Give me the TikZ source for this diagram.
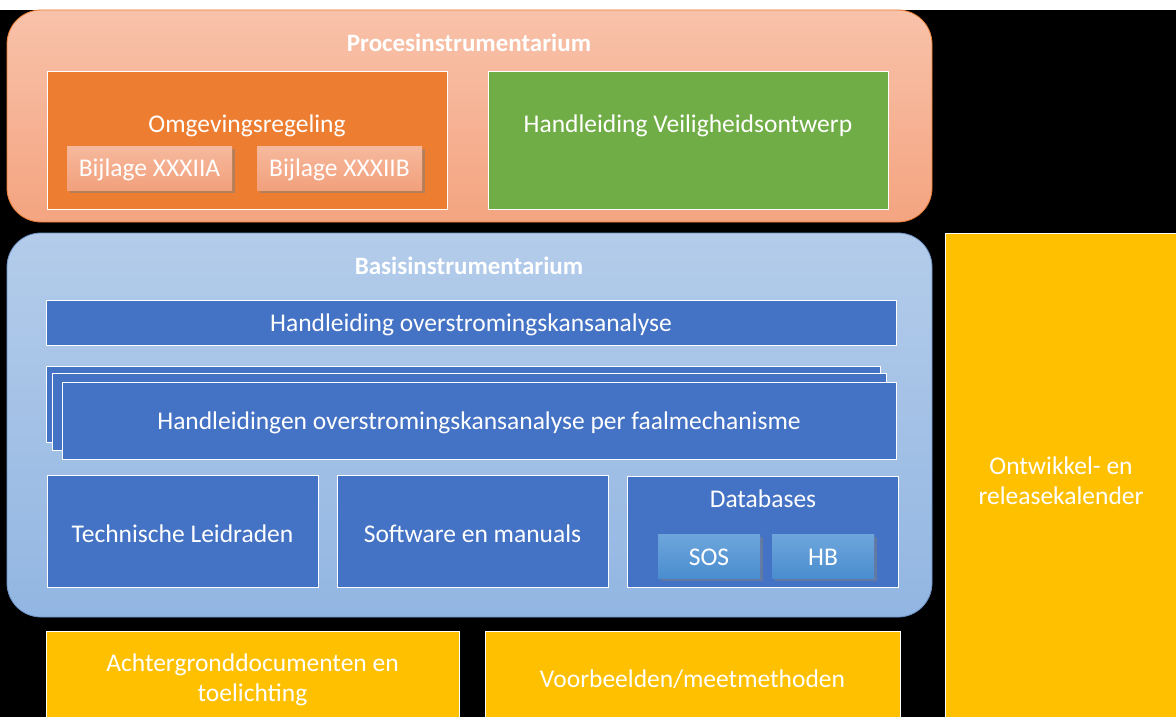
\documentclass[tikz,border=0pt]{standalone}
\usepackage{fontspec}
\setmainfont{Carlito}
\usetikzlibrary{shadows}
\definecolor{procTop}{HTML}{F8C2AA}
\definecolor{procBot}{HTML}{F4A480}
\definecolor{procLine}{HTML}{ED7D31}
\definecolor{basTop}{HTML}{B4CCEA}
\definecolor{basBot}{HTML}{92B6E2}
\definecolor{basLine}{HTML}{6E93C6}
\definecolor{orangeF}{HTML}{ED7D31}
\definecolor{greenF}{HTML}{70AD47}
\definecolor{blueF}{HTML}{4472C4}
\definecolor{yellowF}{HTML}{FFC000}
\definecolor{bijTop}{HTML}{F6B99D}
\definecolor{bijBot}{HTML}{F2A07C}
\definecolor{dbTop}{HTML}{6EA6DC}
\definecolor{dbBot}{HTML}{4A8DCF}
\begin{document}
\begin{tikzpicture}[x=1pt,y=-1pt,
  every node/.style={text=white,font=\fontsize{25.5}{30}\selectfont,yshift=-1.5pt},
  group/.style={rounded corners=34pt,draw=#1,line width=0.8pt},
  rectbox/.style={draw=white,line width=1pt,fill=#1},
  subbox/.style={draw=none,top color=bijTop,bottom color=bijBot,drop shadow={shadow xshift=2.5pt,shadow yshift=-2.5pt,opacity=0.5}},
  dbbox/.style={draw=none,top color=dbTop,bottom color=dbBot,drop shadow={shadow xshift=2.5pt,shadow yshift=-2.5pt,opacity=0.5}},
  title/.style={font=\fontsize{25}{30}\selectfont\bfseries},
  lbl/.style={align=center}
]
\useasboundingbox (0,0) rectangle (1176,717);
\fill[black] (0,0) rectangle (1176,717);
\fill[white] (0,0) rectangle (1176,10);
% Proces
\path[group=procLine,top color=procTop,bottom color=procBot] (7,10) rectangle (932,222);
\node[title] (ptitle) at (469,41) {Procesinstrumentarium};
\draw[rectbox=orangeF] (47,72) rectangle (447,209);
\node (omg) at (247,124) {Omgevingsregeling};
\path[subbox] (67,146) rectangle (232,190);
\node (bija) at (149.5,168) {Bijlage XXXIIA};
\path[subbox] (257,146) rectangle (422,190);
\node (bijb) at (339.5,168) {Bijlage XXXIIB};
\draw[rectbox=greenF] (488,72) rectangle (888,209);
\node (hv) at (688,124) {Handleiding Veiligheidsontwerp};
% Basis
\path[group=basLine,top color=basTop,bottom color=basBot] (7,233) rectangle (932,617);
\node[title] (btitle) at (469,264) {Basisinstrumentarium};
\draw[rectbox=blueF] (46,300) rectangle (896,345);
\node (hoa) at (471,323) {Handleiding overstromingskansanalyse};
\draw[rectbox=blueF] (46,366) rectangle (880,442);
\draw[rectbox=blueF] (52,373) rectangle (886,450);
\draw[rectbox=blueF] (62,382) rectangle (896,459);
\node (hpf) at (479,421) {Handleidingen overstromingskansanalyse per faalmechanisme};
\draw[rectbox=blueF] (47,475) rectangle (318,587);
\node (tl) at (182.5,532) {Technische Leidraden};
\draw[rectbox=blueF] (337,475) rectangle (608,587);
\node (sm) at (472.5,532) {Software en manuals};
\draw[rectbox=blueF] (627,476) rectangle (898,587);
\node (db) at (763,497) {Databases};
\path[dbbox] (658,534) rectangle (760,578);
\node (sos) at (709,556) {SOS};
\path[dbbox] (772,534) rectangle (874,578);
\node (hb) at (823,556) {HB};
% Yellow
\draw[rectbox=yellowF,line width=0.6pt] (945,233) rectangle (1180,720);
\node[lbl] (ork) at (1061,479) {Ontwikkel- en\\releasekalender};
\draw[rectbox=yellowF,line width=0.6pt] (46,631) rectangle (459,720);
\node[lbl] (acht) at (252.5,678) {Achtergronddocumenten en\\toelichting};
\draw[rectbox=yellowF,line width=0.6pt] (485,631) rectangle (900,720);
\node (vb) at (692.5,678) {Voorbeelden/meetmethoden};
\end{tikzpicture}
\end{document}
